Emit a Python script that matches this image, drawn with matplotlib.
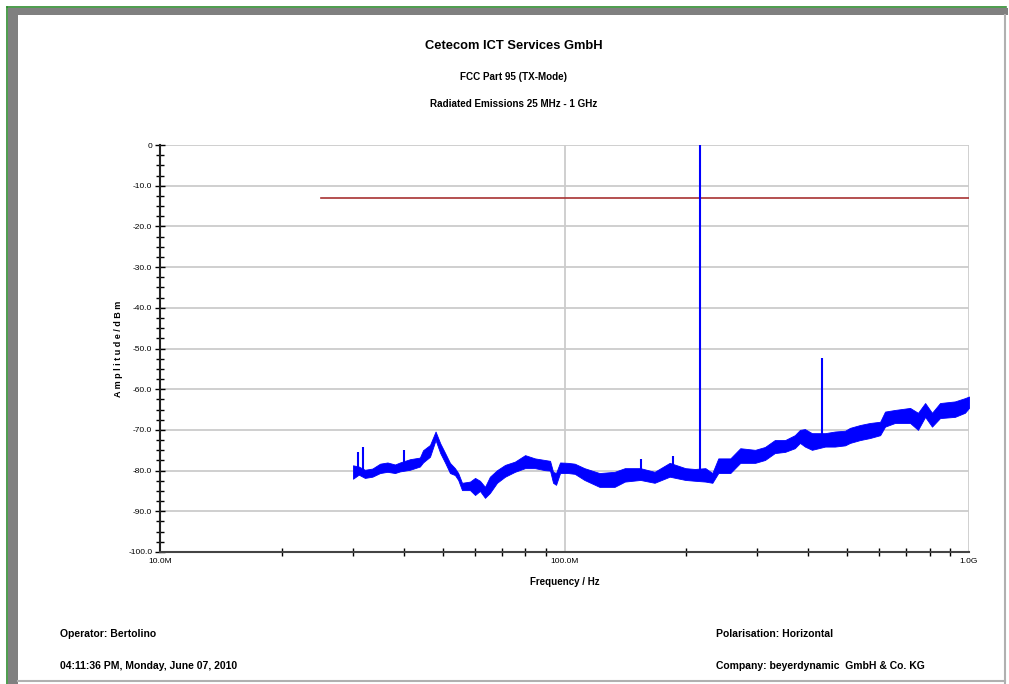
import numpy as np
import matplotlib
matplotlib.use('Agg')
import matplotlib.pyplot as plt
from matplotlib.patches import Rectangle
from matplotlib.lines import Line2D
from matplotlib.ticker import FixedLocator, FixedFormatter, NullFormatter

plt.rcParams['font.family'] = ['Liberation Sans', 'DejaVu Sans']

trace_f = [30, 31.0, 32.1, 33.5, 35.0, 36.5, 38.1, 39.2, 41.5, 43.9,
           44.7, 46.5, 48.0, 49.3, 50.7, 52.1, 53.6, 54.6, 55.8, 58.4,
           60.1, 61.8, 63.6, 65.4, 68.1, 71.3, 75.4, 79.9, 84.5, 89.5,
           92.1, 93.7, 95.3, 97.5, 102, 106, 112, 122, 133, 141,
           154, 167, 182, 199, 210, 223, 232, 240, 257, 272,
           296, 313, 331, 351, 371, 382, 393, 409, 441, 466,
           494, 508, 538, 569, 603, 620, 656, 715, 748, 779,
           810, 848, 923, 977, 1000]
trace_lo = [-82.0, -81.0, -81.8, -81.5, -80.6, -80.3, -80.6, -80.2, -79.8, -79.0,
            -78.0, -76.6, -72.5, -75.7, -78.1, -80.6, -81.1, -82.3, -84.8, -84.8,
            -86.0, -85.0, -86.7, -85.5, -83.0, -81.5, -80.3, -79.4, -79.4, -79.9,
            -80.0, -83.0, -83.5, -80.6, -80.6, -80.8, -82.3, -84.0, -84.0, -82.7,
            -82.3, -83.0, -81.5, -82.3, -82.5, -82.7, -83.0, -80.6, -80.6, -78.1,
            -78.1, -77.4, -75.7, -75.4, -74.5, -73.2, -74.1, -74.9, -74.1, -74.1,
            -73.8, -73.2, -72.5, -72.0, -71.3, -69.2, -68.3, -68.3, -70.0, -66.8,
            -69.2, -67.1, -66.8, -65.8, -64.6]
trace_hi = [-78.7, -79.0, -79.8, -79.5, -78.3, -78.0, -78.5, -78.0, -77.2, -76.8,
            -75.0, -73.7, -70.4, -73.3, -75.7, -78.1, -79.4, -80.6, -83.0, -82.7,
            -81.8, -82.5, -84.0, -81.5, -79.9, -78.6, -77.8, -76.2, -77.0, -77.4,
            -77.6, -80.3, -80.6, -78.0, -78.1, -78.3, -79.4, -80.6, -80.3, -79.4,
            -79.4, -80.3, -78.1, -79.4, -79.6, -79.4, -80.6, -77.0, -77.0, -74.5,
            -74.9, -74.2, -72.5, -72.5, -71.3, -70.0, -69.8, -70.8, -70.8, -70.4,
            -70.2, -69.5, -68.8, -68.3, -68.0, -65.5, -65.1, -64.6, -65.8, -63.4,
            -65.8, -63.4, -63.0, -62.2, -61.8]

# narrow spikes (MHz, base dBm, top dBm)
spike_f = [30.8, 31.8, 40.0, 155, 185.5, 216, 433]
spike_base = [-80, -80, -78, -80, -79, -81, -72]
spike_top = [-75.4, -74.1, -74.9, -77.2, -76.4, 0.0, -52.3]

# limit line
limit_f = [25, 1000]
limit_db = [-13, -13]

y_ticks = [-100, -90, -80, -70, -60, -50, -40, -30, -20, -10, 0]
y_labels = ['-100.0', '-90.0', '-80.0', '-70.0', '-60.0', '-50.0',
            '-40.0', '-30.0', '-20.0', '-10.0', '0']
x_ticks = [10e6, 100e6, 1e9]
x_labels = ['10.0M', '100.0M', '1.0G']

W, H = 1009, 684
fig = plt.figure(figsize=(W / 100., H / 100.), dpi=100)
fig.patch.set_facecolor('white')


def fx(px):
    return px / float(W)


def fy(py):
    return 1 - py / float(H)


# window frame
fig.patches.append(Rectangle((fx(8), 0), fx(10), fy(8), transform=fig.transFigure,
                             facecolor='#808080', edgecolor='none'))
fig.patches.append(Rectangle((fx(8), fy(15)), fx(1000), 7. / H, transform=fig.transFigure,
                             facecolor='#808080', edgecolor='none'))
fig.lines.append(Line2D([fx(7), fx(1006)], [fy(7), fy(7)], transform=fig.transFigure,
                        color='#2e8b2e', lw=1.2))
fig.lines.append(Line2D([fx(7), fx(7)], [fy(7), 0], transform=fig.transFigure,
                        color='#2e8b2e', lw=1.2))
fig.lines.append(Line2D([fx(1005), fx(1005)], [fy(15), 0], transform=fig.transFigure,
                        color='#b0b0b0', lw=1.5))
fig.lines.append(Line2D([fx(18), fx(1005)], [fy(681), fy(681)], transform=fig.transFigure,
                        color='#b0b0b0', lw=1.5))

ax = fig.add_axes([fx(160), fy(552), fx(809), (552 - 145) / float(H)])
ax.set_xscale('log')
ax.set_xlim(10e6, 1e9)
ax.set_ylim(-100, 0)

f_hz = np.array(trace_f) * 1e6
ax.fill_between(f_hz, trace_lo, trace_hi, facecolor='#0000ff', edgecolor='#0000ff',
                lw=0.6, zorder=3)
ax.vlines(np.array(spike_f) * 1e6, spike_base, spike_top, color='#0000ff', lw=1.5, zorder=3)

ax.plot(np.array(limit_f) * 1e6, limit_db, color='#a83232', lw=1.2, zorder=2)

ax.yaxis.set_major_locator(FixedLocator(y_ticks))
ax.yaxis.set_major_formatter(FixedFormatter(y_labels))
ax.yaxis.set_minor_locator(FixedLocator(np.arange(-100, 0, 2.5)))
ax.xaxis.set_major_locator(FixedLocator(x_ticks))
ax.xaxis.set_major_formatter(FixedFormatter(x_labels))
minor_x = [k * 10 ** e for e in (7, 8) for k in range(2, 10)]
ax.xaxis.set_minor_locator(FixedLocator(minor_x))
ax.xaxis.set_minor_formatter(NullFormatter())

ax.grid(True, which='major', axis='y', color='#cccccc', lw=1.3)
ax.axvline(100e6, color='#cccccc', lw=1.3, zorder=0)
ax.axvline(1e9, color='#cccccc', lw=2, zorder=0)
for s in ('top', 'right'):
    ax.spines[s].set_visible(False)
ax.spines['left'].set_color('#222222')
ax.spines['left'].set_linewidth(1.5)
ax.spines['bottom'].set_color('#444444')
ax.spines['bottom'].set_linewidth(1.5)
ax.tick_params(axis='both', which='major', direction='inout', length=7, width=1,
               labelsize=6, pad=2, colors='black')
ax.tick_params(axis='both', which='minor', direction='inout', length=6, width=1, colors='black')
ax.tick_params(axis='x', which='major', length=0, pad=4)
ax.set_axisbelow(True)

ax.set_xlabel('Frequency / Hz', fontsize=7, fontweight='bold', labelpad=9)
ax.set_ylabel('A m p l i t u d e / d B m', fontsize=6.5, fontweight='bold', labelpad=4)

fig.text(fx(514), fy(46), 'Cetecom ICT Services GmbH', ha='center', va='center',
         fontsize=9.3, fontweight='bold')
fig.text(fx(514), fy(77), 'FCC Part 95 (TX-Mode)', ha='center', va='center',
         fontsize=7.1, fontweight='bold')
fig.text(fx(514), fy(104), 'Radiated Emissions 25 MHz - 1 GHz', ha='center', va='center',
         fontsize=7.1, fontweight='bold')

fig.text(fx(60), fy(634), 'Operator: Bertolino', ha='left', va='center', fontsize=7.5, fontweight='bold')
fig.text(fx(60), fy(666), '04:11:36 PM, Monday, June 07, 2010', ha='left', va='center',
         fontsize=7.5, fontweight='bold')
fig.text(fx(716), fy(634), 'Polarisation: Horizontal', ha='left', va='center', fontsize=7.5, fontweight='bold')
fig.text(fx(716), fy(666), 'Company: beyerdynamic  GmbH & Co. KG', ha='left', va='center',
         fontsize=7.5, fontweight='bold')

fig.savefig('out.png', dpi=100, facecolor='white')
